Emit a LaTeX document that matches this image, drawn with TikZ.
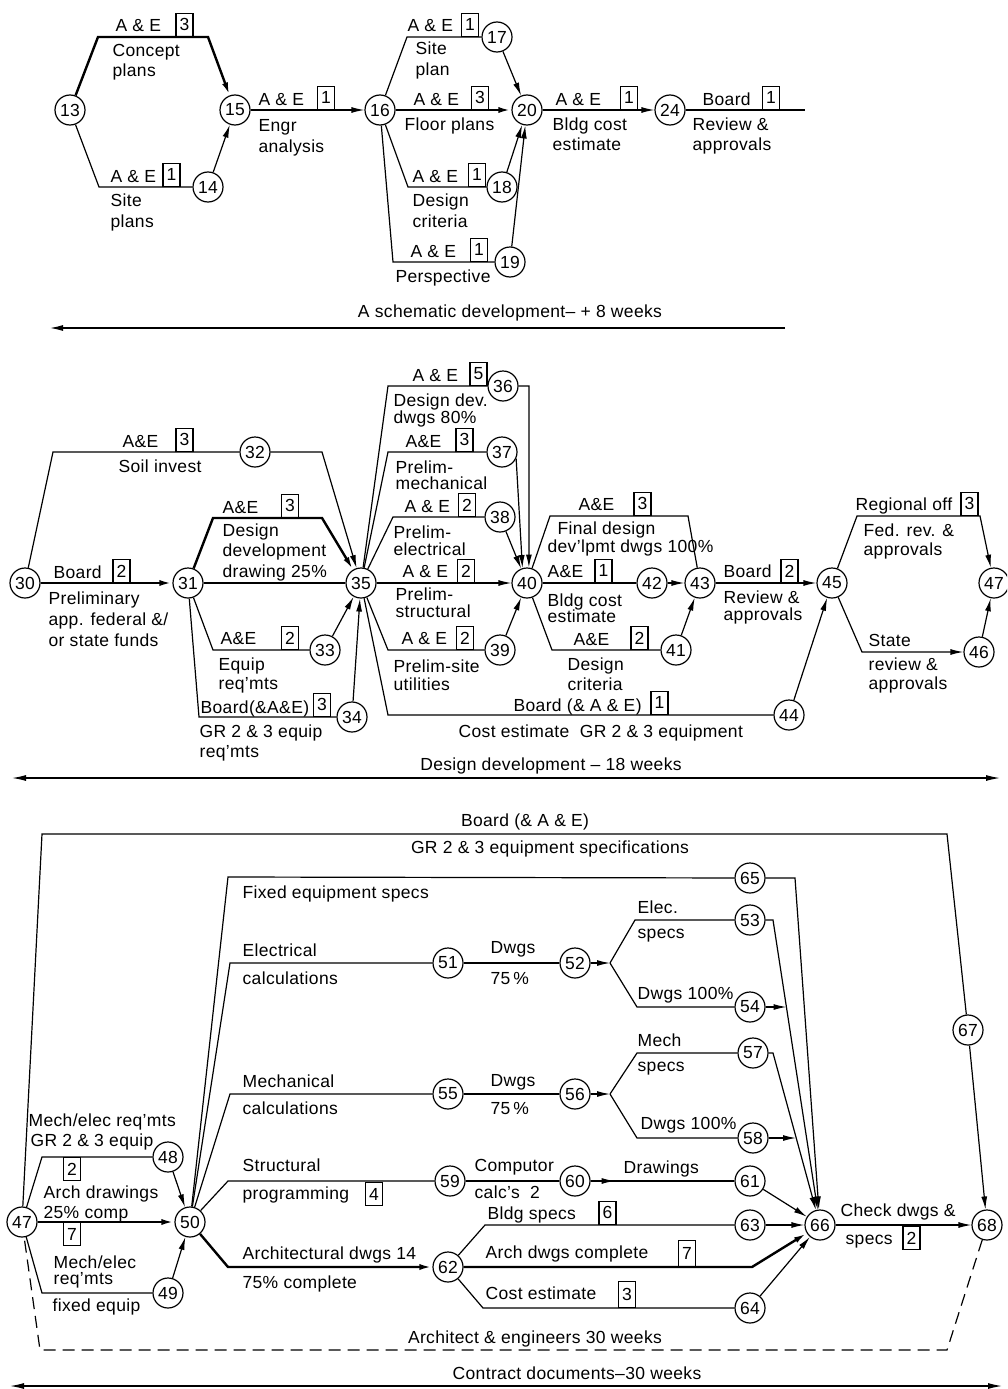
\documentclass[tikz,border=0pt]{standalone}
\usepackage{fontspec}
\setmainfont[LetterSpace=2]{Liberation Sans}
\usetikzlibrary{arrows.meta}
\newcommand\fs{\fontsize{17.5}{20}\selectfont}
\begin{document}
\begin{tikzpicture}[x=1pt,y=-1pt,font=\fs,line width=1.2pt,
 ev/.style={circle,draw,line width=1.2pt,minimum size=30pt,inner sep=0pt,fill=white},
 bx/.style={draw,line width=1.1pt,minimum width=17pt,minimum height=23pt,inner sep=0pt,anchor=south},
 bxh/.style={bx,anchor=north},
 lbl/.style={inner sep=0pt,anchor=base west},
 ctr/.style={inner sep=0pt,anchor=base},
 crit/.style={line width=2.4pt},
 arr/.style={-{Latex[length=13pt,width=6pt]}},
 dbl/.style={{Latex[length=14pt,width=6pt]}-{Latex[length=14pt,width=6pt]}}]
\clip (0,0) rectangle (1007,1389);
\fill[white] (0,0) rectangle (1007,1389);
% ---------------- top section ----------------
\node[ev] (n13) at (70,110) {13};
\node[ev] (n15) at (235,110) {15};
\node[ev] (n14) at (208,187) {14};
\node[ev] (n16) at (380,110) {16};
\node[ev] (n17) at (497,37) {17};
\node[ev] (n20) at (527,110) {20};
\node[ev] (n18) at (502,187) {18};
\node[ev] (n19) at (510,262) {19};
\node[ev] (n24) at (670,110) {24};

\draw[crit,arr] (n13) -- (98,37) -- (208,37) -- (n15);
\node[bx] (b1) at (184.5,37) {3};
\node[lbl] (t1) at (115,32) {A \& E};
\node[lbl] (t2) at (112,57) {Concept};
\node[lbl] (t3) at (112,77) {plans};

\draw (n13) -- (99,187) -- (n14);
\node[bx] (b2) at (171.5,187) {1};
\node[lbl] (t4) at (110,182) {A \& E};
\node[lbl] (t5) at (110,206) {Site};
\node[lbl] (t6) at (110,227) {plans};
\draw[arr] (n14) -- (n15);

\draw[arr] (n15) -- (n16);
\node[bx] (b3) at (326,110) {1};
\node[lbl] (t7) at (258,105) {A \& E};
\node[lbl] (t8) at (258,131) {Engr};
\node[lbl] (t9) at (258,152) {analysis};

\draw (n16) -- (407,37) -- (n17);
\node[bx] (b4) at (470,37) {1};
\node[lbl] (t10) at (407,32) {A \& E};
\node[lbl] (t11) at (415,55) {Site};
\node[lbl] (t12) at (415,76) {plan};

\draw[crit,arr] (n16) -- (n20);
\node[bx] (b5) at (480,110) {3};
\node[lbl] (t13) at (413,105) {A \& E};
\node[lbl] (t14) at (404,130) {Floor plans};

\draw (n16) -- (408,187) -- (n18);
\node[bx] (b6) at (477,187) {1};
\node[lbl] (t15) at (412,182) {A \& E};
\node[lbl] (t16) at (412,206) {Design};
\node[lbl] (t17) at (412,227) {criteria};

\draw (n16) -- (393,262) -- (n19);
\node[bx] (b7) at (479,262) {1};
\node[lbl] (t18) at (410,257) {A \& E};
\node[lbl] (t19) at (395,282) {Perspective};

\draw[arr] (n17) -- (n20);
\draw[arr] (n18) -- (n20);
\draw[arr] (n19) -- (n20);

\draw[arr] (n20) -- (n24);
\node[bx] (b8) at (629,110) {1};
\node[lbl] (t20) at (555,105) {A \& E};
\node[lbl] (t21) at (552,130) {Bldg cost};
\node[lbl] (t22) at (552,150) {estimate};

\coordinate (e24) at (805,110);
\draw (n24) -- (e24);
\node[bx] (b9) at (771,110) {1};
\node[lbl] (t23) at (702,105) {Board};
\node[lbl] (t24) at (692,130) {Review \&};
\node[lbl] (t25) at (692,150) {approvals};

\coordinate (s1) at (785,328);
\coordinate (s2) at (50,328);
\draw[arr] (s1) -- (s2);
\node[ctr] (t26) at (510,317) {A schematic development– + 8 weeks};

% ---------------- middle section ----------------
\node[ev] (n30) at (25,583) {30};
\node[ev] (n31) at (188,583) {31};
\node[ev] (n32) at (255,452) {32};
\node[ev] (n35) at (361,583) {35};
\node[ev] (n33) at (325,650) {33};
\node[ev] (n34) at (352,717) {34};
\node[ev] (n36) at (503,386) {36};
\node[ev] (n37) at (502,452) {37};
\node[ev] (n38) at (500,517) {38};
\node[ev] (n40) at (527,583) {40};
\node[ev] (n39) at (500,650) {39};
\node[ev] (n42) at (652,583) {42};
\node[ev] (n43) at (700,583) {43};
\node[ev] (n41) at (676,650) {41};
\node[ev] (n44) at (789,715) {44};
\node[ev] (n45) at (832,583) {45};
\node[ev] (n46) at (979,652) {46};
\node[ev] (n47m) at (994,583) {47};

\draw (n30) -- (53,452) -- (n32);
\node[bx] (b10) at (184.5,452) {3};
\node[lbl] (t27) at (122,447) {A\&E};
\node[lbl] (t28) at (118,472) {Soil invest};
\draw[arr] (n32) -- (322,452) -- (n35);

\draw[crit,arr] (n30) -- (n31);
\node[bx] (b11) at (121.5,583) {2};
\node[lbl] (t29) at (53,578) {Board};
\node[lbl] (t30) at (48,604) {Preliminary};
\node[lbl] (t31) at (48,625) {app. federal \&/};
\node[lbl] (t32) at (48,646) {or state funds};

\draw[crit,arr] (n31) -- (213,518) -- (322,518) -- (n35);
\node[bx] (b12) at (290,518) {3};
\node[lbl] (t33) at (222,513) {A\&E};
\node[lbl] (t34) at (222,536) {Design};
\node[lbl] (t35) at (222,556) {development};
\node[lbl] (t36) at (222,577) {drawing 25\%};

\draw (n31) -- (n35);

\draw (n31) -- (213,650) -- (n33);
\node[bx] (b13) at (290,650) {2};
\node[lbl] (t37) at (220,644) {A\&E};
\node[lbl] (t38) at (218,670) {Equip};
\node[lbl] (t39) at (218,689) {req'mts};
\draw[arr] (n33) -- (n35);

\draw (n31) -- (199,717) -- (n34);
\node[bx] (b14) at (322,717) {3};
\node[lbl] (t40) at (200,713) {Board(\&A\&E)};
\node[lbl] (t41) at (199,737) {GR 2 \& 3 equip};
\node[lbl] (t42) at (199,757) {req'mts};
\draw[arr] (n34) -- (n35);

\draw (n35) -- (388,386) -- (n36);
\node[bx] (b15) at (478.5,386) {5};
\node[lbl] (t43) at (412,381) {A \& E};
\node[lbl] (t44) at (393,406) {Design dev.};
\node[lbl] (t45) at (393,423) {dwgs 80\%};
\draw[arr] (n36) -- (529,386) -- (n40.83);

\draw (n35) -- (388,452) -- (n37);
\node[bx] (b16) at (464.5,452) {3};
\node[lbl] (t46) at (405,447) {A\&E};
\node[lbl] (t47) at (395,473) {Prelim-};
\node[lbl] (t48) at (395,489) {mechanical};
\draw[arr] (n37.-25) -- (n40.107);

\draw (n35) -- (393,517) -- (n38);
\node[bx] (b17) at (467,517) {2};
\node[lbl] (t49) at (404,512) {A \& E};
\node[lbl] (t50) at (393,538) {Prelim-};
\node[lbl] (t51) at (393,555) {electrical};
\draw[arr] (n38) -- (n40);

\draw[arr] (n35) -- (n40);
\node[bx] (b18) at (466,583) {2};
\node[lbl] (t52) at (402,577) {A \& E};
\node[lbl] (t53) at (395,600) {Prelim-};
\node[lbl] (t54) at (395,617) {structural};

\draw (n35) -- (388,650) -- (n39);
\node[bx] (b19) at (465,650) {2};
\node[lbl] (t55) at (401,644) {A \& E};
\node[lbl] (t56) at (393,672) {Prelim-site};
\node[lbl] (t57) at (393,690) {utilities};
\draw[arr] (n39) -- (n40);

\draw (n35) -- (388,715) -- (n44);
\node[bx] (b20) at (659.5,715) {1};
\node[lbl] (t58) at (513,711) {Board (\& A \& E)};
\node[lbl] (t59) at (458,737) {Cost estimate\ \ GR 2 \& 3 equipment};
\draw[arr] (n44) -- (n45);

\draw (n40) -- (550,516) -- (688,516) -- (n43);
\node[bx] (b21) at (642.5,516) {3};
\node[lbl] (t60) at (578,510) {A\&E};
\node[lbl] (t61) at (557,534) {Final design};
\node[lbl] (t62) at (547,552) {dev'lpmt dwgs 100\%};

\draw (n40) -- (n42);
\node[bx] (b22) at (603.5,583) {1};
\node[lbl] (t63) at (547,577) {A\&E};
\node[lbl] (t64) at (547,606) {Bldg cost};
\node[lbl] (t65) at (547,622) {estimate};
\draw[arr] (n42) -- (n43);

\draw (n40) -- (552,650) -- (n41);
\node[bx] (b23) at (639.5,650) {2};
\node[lbl] (t66) at (573,645) {A\&E};
\node[lbl] (t67) at (567,670) {Design};
\node[lbl] (t68) at (567,690) {criteria};
\draw[arr] (n41) -- (n43);

\draw[arr] (n43) -- (n45);
\node[bx] (b24) at (789.5,583) {2};
\node[lbl] (t69) at (723,577) {Board};
\node[lbl] (t70) at (723,603) {Review \&};
\node[lbl] (t71) at (723,620) {approvals};

\draw[arr] (n45) -- (857,516) -- (980,516) -- (n47m);
\node[bx] (b25) at (969.5,516) {3};
\node[lbl] (t72) at (855,510) {Regional off};
\node[lbl] (t73) at (863,536) {Fed. rev. \&};
\node[lbl] (t74) at (863,555) {approvals};

\draw[arr] (n45) -- (862,652) -- (n46);
\node[lbl] (t75) at (868,646) {State};
\node[lbl] (t76) at (868,670) {review \&};
\node[lbl] (t77) at (868,689) {approvals};
\draw[arr] (n46) -- (n47m);

\coordinate (d1) at (12,778);
\coordinate (d2) at (1000,778);
\draw[dbl] (d1) -- (d2);
\node[ctr] (t78) at (551,770) {Design development – 18 weeks};

% ---------------- bottom section ----------------
\node[ev] (n47) at (22,1222) {47};
\node[ev] (n48) at (168,1157) {48};
\node[ev] (n50) at (190,1222) {50};
\node[ev] (n49) at (168,1293) {49};
\node[ev] (n51) at (448,963) {51};
\node[ev] (n52) at (575,963) {52};
\node[ev] (n53) at (750,920) {53};
\node[ev] (n54) at (750,1007) {54};
\node[ev] (n55) at (448,1094) {55};
\node[ev] (n56) at (575,1094) {56};
\node[ev] (n57) at (753,1053) {57};
\node[ev] (n58) at (753,1138) {58};
\node[ev] (n59) at (450,1181) {59};
\node[ev] (n60) at (575,1181) {60};
\node[ev] (n61) at (750,1181) {61};
\node[ev] (n62) at (448,1267) {62};
\node[ev] (n63) at (750,1225) {63};
\node[ev] (n64) at (750,1308) {64};
\node[ev] (n65) at (750,878) {65};
\node[ev] (n66) at (820,1225) {66};
\node[ev] (n67) at (968,1030) {67};
\node[ev] (n68) at (987,1225) {68};

\draw (n47) -- (42,834) -- (947,834) -- (n67);
\draw[arr] (n67) -- (n68);
\node[ctr] (t79) at (525,826) {Board (\& A \& E)};
\node[ctr] (t80) at (550,853) {GR 2 \& 3 equipment specifications};

\draw (n47) -- (42,1157) -- (n48);
\node[bxh] (b26) at (72,1157) {2};
\node[lbl] (t81) at (28,1126) {Mech/elec req'mts};
\node[lbl] (t82) at (30,1146) {GR 2 \& 3 equip};
\draw[arr] (n48) -- (n50);

\draw[crit,arr] (n47) -- (n50);
\node[bxh] (b27) at (72,1222) {7};
\node[lbl] (t83) at (43,1198) {Arch drawings};
\node[lbl] (t84) at (43,1218) {25\% comp};

\draw (n47) -- (42,1293) -- (n49);
\node[lbl] (t85) at (53,1268) {Mech/elec};
\node[lbl] (t86) at (53,1284) {req'mts};
\node[lbl] (t87) at (52,1311) {fixed equip};
\draw[arr] (n49) -- (n50);

\draw (n50) -- (228,877) -- (n65);
\node[lbl] (t88) at (242,898) {Fixed equipment specs};
\draw[arr] (n65) -- (795,878) -- (n66);

\draw (n50) -- (230,963) -- (n51);
\node[lbl] (t89) at (242,956) {Electrical};
\node[lbl] (t90) at (242,984) {calculations};
\draw (n51) -- (n52);
\node[lbl] (t91) at (490,953) {Dwgs};
\node[lbl] (t92) at (490,984) {75\,\%};
\coordinate (j52) at (610,963);
\draw[arr] (n52) -- (j52);
\draw (j52) -- (635,920) -- (n53);
\draw (j52) -- (637,1007) -- (n54);
\node[lbl] (t93) at (637,913) {Elec.};
\node[lbl] (t94) at (637,938) {specs};
\node[lbl] (t95) at (637,999) {Dwgs 100\%};
\draw[arr] (n53) -- (773,920) -- (n66);
\coordinate (j54) at (786.5,1007);
\draw[arr] (n54) -- (j54);

\draw (n50) -- (230,1094) -- (n55);
\node[lbl] (t96) at (242,1087) {Mechanical};
\node[lbl] (t97) at (242,1114) {calculations};
\draw (n55) -- (n56);
\node[lbl] (t98) at (490,1086) {Dwgs};
\node[lbl] (t99) at (490,1114) {75\,\%};
\coordinate (j56) at (610,1094);
\draw[arr] (n56) -- (j56);
\draw (j56) -- (637,1053) -- (n57);
\draw (j56) -- (637,1138) -- (n58);
\node[lbl] (t100) at (637,1046) {Mech};
\node[lbl] (t101) at (637,1071) {specs};
\node[lbl] (t102) at (640,1129) {Dwgs 100\%};
\draw[arr] (n57) -- (773,1053) -- (n66);
\coordinate (j58) at (796,1138);
\draw[arr] (n58) -- (j58);

\draw (n50) -- (228,1181) -- (n59);
\node[lbl] (t103) at (242,1171) {Structural};
\node[lbl] (t104) at (242,1199) {programming};
\node[bxh] (b28) at (374,1182) {4};
\draw (n59) -- (n60);
\node[lbl] (t105) at (474,1171) {Computor};
\node[lbl] (t106) at (474,1198) {calc's\ \ 2};
\draw (n60) -- (n61);
\draw[arr] (n60.east) -- ++(24,0) coordinate (a60);
\node[lbl] (t107) at (623,1173) {Drawings};
\draw[arr] (n61) -- (n66);

\draw[crit,arr] (n50) -- (228,1267) -- (n62);
\node[lbl] (t108) at (242,1259) {Architectural dwgs 14};
\node[lbl] (t109) at (242,1288) {75\% complete};

\draw (n62) -- (485,1225) -- (n63);
\node[bx] (b29) at (607.5,1225) {6};
\node[lbl] (t110) at (487,1219) {Bldg specs};
\draw[arr] (n63) -- (n66);

\draw[crit,arr] (n62) -- (752,1267) -- (n66);
\node[bx,minimum height=26pt] (b30) at (687,1267) {7};
\node[lbl] (t111) at (485,1258) {Arch dwgs complete};

\draw (n62) -- (483,1308) -- (n64);
\node[bx,minimum height=26pt] (b31) at (627,1308) {3};
\node[lbl] (t112) at (485,1299) {Cost estimate};
\draw[arr] (n64) -- (n66);

\draw[arr] (n66) -- (n68);
\node[lbl] (t113) at (840,1216) {Check dwgs \&};
\node[lbl] (t114) at (845,1244) {specs};
\node[bxh] (b32) at (911.5,1226) {2};

\draw[dash pattern=on 12pt off 7pt] (n68) -- (947,1350) -- (40,1350) -- (n47);
\node[ctr] (t115) at (535,1343) {Architect \& engineers 30 weeks};

\coordinate (c1) at (10,1386);
\coordinate (c2) at (1002,1386);
\draw[dbl] (c1) -- (c2);
\node[ctr] (t116) at (577,1379) {Contract documents–30 weeks};
\end{tikzpicture}
\end{document}
